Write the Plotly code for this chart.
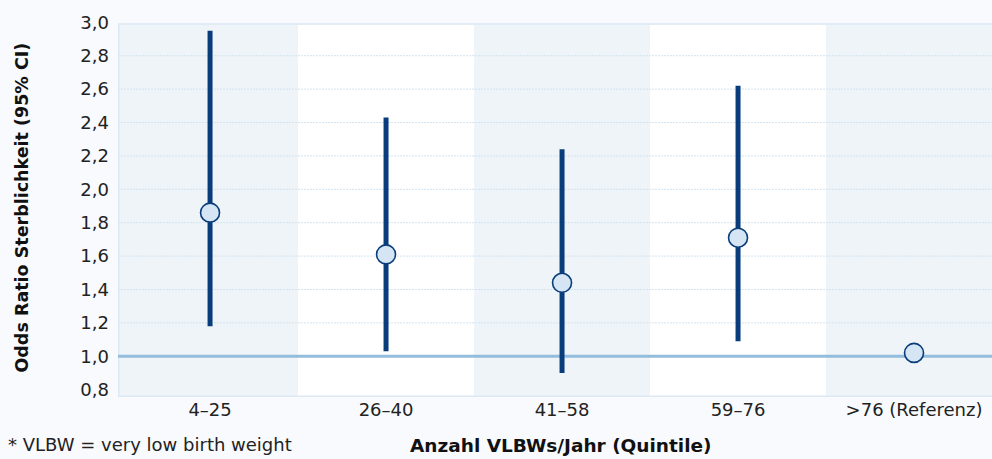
import plotly.graph_objects as go

categories = ["4–25", "26–40", "41–58", "59–76", ">76 (Referenz)"]
odds_ratio = [1.86, 1.61, 1.44, 1.71, 1.02]
ci_upper = [2.95, 2.43, 2.24, 2.62, None]
ci_lower = [1.18, 1.03, 0.90, 1.09, None]
y_ticks = [0.8, 1.0, 1.2, 1.4, 1.6, 1.8, 2.0, 2.2, 2.4, 2.6, 2.8, 3.0]

PAGE_BG = "#f8fafd"
BAND = "#eff4f9"
DARK = "#083c7b"
FONT = "DejaVu Sans"

xs = list(range(len(categories)))
err_plus = [(u - v) if u is not None else 0 for u, v in zip(ci_upper, odds_ratio)]
err_minus = [(v - l) if l is not None else 0 for l, v in zip(ci_lower, odds_ratio)]

X_LEFT, X_RIGHT = -0.523, 4.443
Y_BOTTOM, Y_TOP_AREA, Y_RANGE_TOP = 0.756, 2.99, 3.008

fig = go.Figure()
fig.add_trace(go.Scatter(
    x=xs, y=odds_ratio, mode="markers",
    marker=dict(size=19, color="#d5e5f3", line=dict(color=DARK, width=1.6)),
    error_y=dict(type="data", symmetric=False, array=err_plus, arrayminus=err_minus,
                 color=DARK, thickness=5, width=0),
    showlegend=False, hoverinfo="skip",
))

shapes = []
# white plot area
shapes.append(dict(type="rect", xref="x", yref="y", x0=X_LEFT, x1=X_RIGHT + 0.1, y0=Y_BOTTOM, y1=Y_TOP_AREA,
                   fillcolor="white", line=dict(width=0), layer="below"))
# shaded bands
for i in range(0, len(categories), 2):
    shapes.append(dict(type="rect", xref="x", yref="y",
                       x0=X_LEFT if i == 0 else i - 0.5,
                       x1=i + 0.5 if i < len(categories) - 1 else X_RIGHT + 0.1,
                       y0=Y_BOTTOM, y1=Y_TOP_AREA, fillcolor=BAND, line=dict(width=0), layer="below"))
# dotted gridlines
for t in y_ticks:
    if 1.0 < t < Y_TOP_AREA:
        shapes.append(dict(type="line", xref="x", yref="y", x0=X_LEFT, x1=X_RIGHT + 0.1, y0=t, y1=t,
                           line=dict(color="#d3e3ef", width=1, dash="2px,1px"), layer="below"))
# border
shapes.append(dict(type="rect", xref="x", yref="y", x0=X_LEFT + 0.004, x1=X_RIGHT + 0.1, y0=Y_BOTTOM + 0.004, y1=Y_TOP_AREA,
                   fillcolor="rgba(0,0,0,0)", line=dict(color="#dce8f3", width=1.5), layer="below"))
# reference line
shapes.append(dict(type="line", xref="x", yref="y", x0=X_LEFT, x1=X_RIGHT + 0.1, y0=1.0, y1=1.0,
                   line=dict(color="#93bddd", width=3), layer="below"))

fig.update_layout(
    width=992, height=459,
    margin=dict(l=118, r=0, t=21, b=62),
    paper_bgcolor=PAGE_BG, plot_bgcolor=PAGE_BG,
    separators=", ",
    font=dict(family=FONT, size=18, color="#222222"),
    shapes=shapes,
    xaxis=dict(range=[X_LEFT, X_RIGHT], tickmode="array", tickvals=xs, ticktext=categories,
               showgrid=False, zeroline=False, showline=False, ticks="",
               tickfont=dict(size=18, color="#222222")),
    yaxis=dict(range=[Y_BOTTOM, Y_RANGE_TOP], tickmode="array", tickvals=y_ticks,
               tickformat=".1f", showgrid=False, zeroline=False, showline=False, ticks="",
               ticklabelstandoff=8, tickfont=dict(size=18, color="#222222")),
    annotations=[
        dict(text="<b>Odds Ratio Sterblichkeit (95% CI)</b>", xref="paper", yref="paper",
             x=-0.1098, y=0.504, textangle=-90, xanchor="center", yanchor="middle",
             showarrow=False, font=dict(size=17.5, color="#111111")),
        dict(text="<b>Anzahl VLBWs/Jahr (Quintile)</b>", xref="paper", yref="paper",
             x=0.5074, y=-0.13, xanchor="center", yanchor="middle",
             showarrow=False, font=dict(size=18.5, color="#111111")),
        dict(text="* VLBW = very low birth weight", xref="paper", yref="paper",
             x=-0.1282, y=-0.125, xanchor="left", yanchor="middle",
             showarrow=False, font=dict(size=18, color="#222222")),
    ],
)

fig.write_html("out.html", config={"displayModeBar": False},
               post_script="document.body.style.margin='0';document.body.style.overflow='hidden';")
